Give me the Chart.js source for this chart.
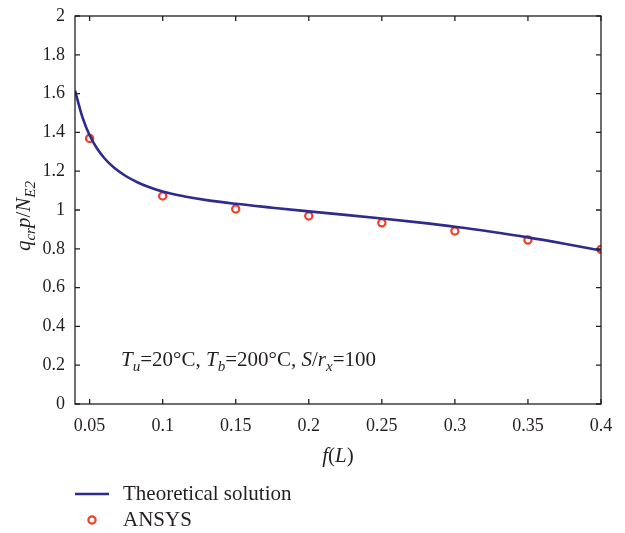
<!DOCTYPE html>
<html>
<head>
<meta charset="utf-8">
<script src="https://cdn.jsdelivr.net/npm/chart.js@4.4.1/dist/chart.umd.min.js"></script>
<style>
html,body{margin:0;padding:0;background:#fff;}
canvas{display:block;}
</style>
</head>
<body>
<canvas id="c" width="625" height="533"></canvas>
<script>
// ---- data ----
const theoryX = [0.04,0.045,0.05,0.055,0.06,0.067,0.075,0.083,0.09,0.1,0.115,0.13,0.15,0.175,0.2,0.225,0.25,0.275,0.3,0.325,0.35,0.375,0.4];
const theoryY = [1.615,1.48,1.385,1.318,1.268,1.216,1.174,1.142,1.12,1.095,1.07,1.051,1.032,1.012,0.993,0.975,0.956,0.936,0.914,0.888,0.859,0.826,0.791];
const ansysX = [0.05,0.1,0.15,0.2,0.25,0.3,0.35,0.4];
const ansysY = [1.369,1.072,1.005,0.969,0.934,0.892,0.845,0.797];
const xTicks = [0.05,0.1,0.15,0.2,0.25,0.3,0.35,0.4];
const yTicks = [0,0.2,0.4,0.6,0.8,1,1.2,1.4,1.6,1.8,2];
const seriesNames = ['Theoretical solution','ANSYS'];

const FONT = '"Liberation Serif","DejaVu Serif",serif';
const INK = '#231f20';
const LINE_C = '#2f2a8c';
const PT_C = '#ee3e24';

function richText(ctx, segs, x, y, size, align){
  const measure = s => {
    const fs = s[2] ? size*0.72 : size;
    ctx.font = (s[1]?'italic ':'') + fs + 'px ' + FONT;
    return ctx.measureText(s[0]).width;
  };
  let total = 0; segs.forEach(s => total += measure(s));
  let cx = align === 'center' ? x - total/2 : x;
  ctx.textBaseline = 'alphabetic';
  ctx.textAlign = 'left';
  segs.forEach(s => {
    const w = measure(s);
    ctx.fillText(s[0], cx, y + (s[2] ? size*0.25 : 0));
    cx += w;
  });
}

const decor = {
  id: 'decor',
  afterDraw(chart){
    const {ctx, chartArea: a, scales} = chart;
    ctx.save();
    ctx.strokeStyle = INK; ctx.fillStyle = INK; ctx.lineWidth = 1.3;
    ctx.strokeRect(a.left, a.top, a.right - a.left, a.bottom - a.top);
    const tl = 5;
    ctx.beginPath();
    scales.x.ticks.forEach(t => {
      const px = scales.x.getPixelForValue(t.value);
      ctx.moveTo(px, a.bottom); ctx.lineTo(px, a.bottom - tl);
      ctx.moveTo(px, a.top); ctx.lineTo(px, a.top + tl);
    });
    scales.y.ticks.forEach(t => {
      const py = scales.y.getPixelForValue(t.value);
      ctx.moveTo(a.left, py); ctx.lineTo(a.left + tl, py);
      ctx.moveTo(a.right, py); ctx.lineTo(a.right - tl, py);
    });
    ctx.stroke();

    // x title
    richText(ctx, [['f',1,0],['(',0,0],['L',1,0],[')',0,0]], (a.left + a.right)/2, a.bottom + 58, 21, 'center');
    // y title
    ctx.save();
    ctx.translate(a.left - 45, (a.top + a.bottom)/2 + 6);
    ctx.rotate(-Math.PI/2);
    richText(ctx, [['q',1,0],['cr',1,1],['p',1,0],['/',0,0],['N',1,0],['E2',1,1]], 0, 0, 21, 'center');
    ctx.restore();
    // annotation
    richText(ctx, [['T',1,0],['u',1,1],['=20°C, ',0,0],['T',1,0],['b',1,1],['=200°C, ',0,0],['S',1,0],['/',0,0],['r',1,0],['x',1,1],['=100',0,0]],
      a.left + 46, scales.y.getPixelForValue(0.2) + 1, 21, 'left');

    // legend
    const ds = chart.data.datasets;
    const ly1 = 494, ly2 = 520, lx = 123;
    ctx.strokeStyle = ds[0].borderColor; ctx.lineWidth = ds[0].borderWidth;
    ctx.beginPath(); ctx.moveTo(75, ly1); ctx.lineTo(109, ly1); ctx.stroke();
    ctx.beginPath(); ctx.arc(92, ly2, ds[1].pointRadius, 0, Math.PI*2);
    ctx.fillStyle = '#fff'; ctx.fill();
    ctx.strokeStyle = ds[1].borderColor; ctx.lineWidth = ds[1].pointBorderWidth; ctx.stroke();
    ctx.fillStyle = INK;
    ctx.font = '21px ' + FONT; ctx.textBaseline = 'middle'; ctx.textAlign = 'left';
    ctx.fillText(ds[0].label, lx, ly1);
    ctx.fillText(ds[1].label, lx, ly2);
    ctx.restore();
  }
};

new Chart(document.getElementById('c'), {
  type: 'scatter',
  data: {
    datasets: [
      {
        label: seriesNames[0],
        data: theoryX.map((x,i)=>({x, y: theoryY[i]})),
        showLine: true, borderColor: LINE_C, borderWidth: 2.6,
        pointRadius: 0, cubicInterpolationMode: 'monotone', fill: false
      },
      {
        label: seriesNames[1],
        data: ansysX.map((x,i)=>({x, y: ansysY[i]})),
        showLine: false, borderColor: PT_C, backgroundColor: '#fff',
        pointRadius: 3.6, pointBorderWidth: 2.2, pointBackgroundColor: '#fff', pointBorderColor: PT_C
      }
    ]
  },
  options: {
    responsive: false, animation: false, devicePixelRatio: 1,
    layout: { padding: { top: 16, right: 24, left: 0, bottom: 0 } },
    plugins: { legend: { display: false }, tooltip: { enabled: false } },
    scales: {
      x: {
        type: 'linear', min: 0.04, max: 0.4,
        afterBuildTicks: s => { s.ticks = xTicks.map(v => ({value: v})); },
        afterFit: s => { s.height = 129; s.paddingLeft = 0; s.paddingRight = 0; },
        grid: { display: false, drawTicks: false }, border: { display: false },
        ticks: { font: { family: FONT, size: 18 }, color: INK, padding: 11, maxRotation: 0, autoSkip: false,
          callback: v => String(+v.toFixed(2)) }
      },
      y: {
        type: 'linear', min: 0, max: 2,
        afterBuildTicks: s => { s.ticks = yTicks.map(v => ({value: v})); },
        afterFit: s => { s.width = 75; s.paddingTop = 0; s.paddingBottom = 0; },
        grid: { display: false, drawTicks: false }, border: { display: false },
        ticks: { font: { family: FONT, size: 18 }, color: INK, padding: 10, autoSkip: false,
          callback: v => String(+v.toFixed(1)) }
      }
    }
  },
  plugins: [decor]
});
</script>
</body>
</html>
